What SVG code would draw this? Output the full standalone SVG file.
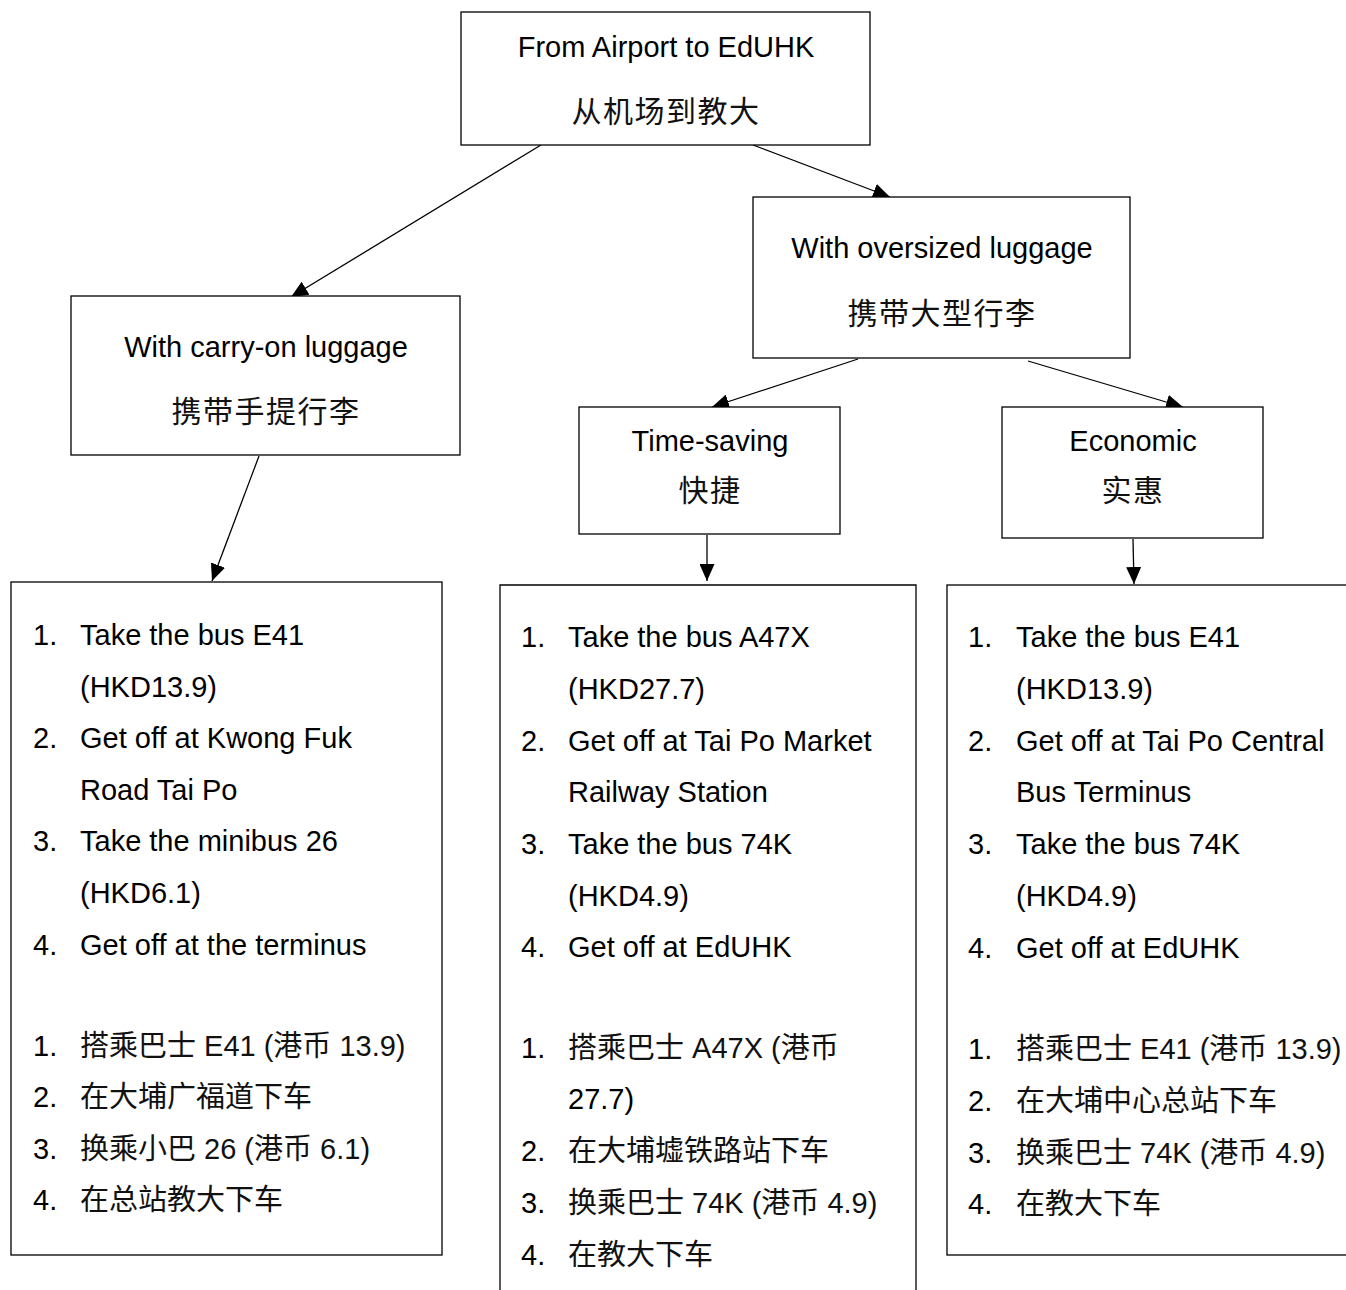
<svg xmlns="http://www.w3.org/2000/svg" width="1346" height="1290" viewBox="0 0 1346 1290">
<style>
.box{fill:#fff;stroke:#000;stroke-width:1.3}
text{font-family:"Liberation Sans",Arial,"Noto Sans CJK SC",sans-serif;font-size:29px;fill:#000}
.c{text-anchor:middle}
.zh{font-family:"Liberation Sans",Arial,"Noto Sans CJK SC",sans-serif;fill:#111}
.tz{font-size:30px;letter-spacing:1.5px;fill:#111}
.conn line{stroke:#000;stroke-width:1.3;marker-end:url(#ah)}
</style>
<defs>
<marker id="ah" markerUnits="userSpaceOnUse" markerWidth="17" markerHeight="15" refX="17" refY="7.5" orient="auto" viewBox="0 0 17 15">
<path d="M0,0 L17,7.5 L0,15 z" fill="#000"/>
</marker>
</defs>
<rect width="1346" height="1290" fill="#fff"/>
<g class="conn" id="connectors">
<line x1="541" y1="145" x2="291" y2="297"/>
<line x1="753" y1="145" x2="890" y2="197"/>
<line x1="259" y1="456" x2="212" y2="581"/>
<line x1="858" y1="359" x2="712" y2="407"/>
<line x1="1028" y1="361" x2="1183" y2="407"/>
<line x1="707" y1="535" x2="707" y2="581"/>
<line x1="1133" y1="539" x2="1134" y2="584"/>
</g>
<g id="root">
<rect class="box" x="461" y="12" width="409" height="133"/>
<text class="c" x="666" y="57">From Airport to EdUHK</text>
<text class="c tz" x="666" y="122">从机场到教大</text>
</g>
<g id="carryon">
<rect class="box" x="71" y="296" width="389" height="159"/>
<text class="c" x="266" y="357">With carry-on luggage</text>
<text class="c tz" x="266" y="422">携带手提行李</text>
</g>
<g id="oversized">
<rect class="box" x="753" y="197" width="377" height="161"/>
<text class="c" x="942" y="258">With oversized luggage</text>
<text class="c tz" x="942" y="324">携带大型行李</text>
</g>
<g id="timesaving">
<rect class="box" x="579" y="407" width="261" height="127"/>
<text class="c" x="710" y="451">Time-saving</text>
<text class="c tz" x="710" y="501">快捷</text>
</g>
<g id="economic">
<rect class="box" x="1002" y="407" width="261" height="131"/>
<text class="c" x="1133" y="451">Economic</text>
<text class="c tz" x="1133" y="501">实惠</text>
</g>
<g id="list-carryon">
<rect class="box" x="11" y="582" width="431" height="673"/>
<text x="33" y="645">1.</text><text x="80" y="645">Take the bus E41</text>
<text x="80" y="697">(HKD13.9)</text>
<text x="33" y="748">2.</text><text x="80" y="748">Get off at Kwong Fuk</text>
<text x="80" y="800">Road Tai Po</text>
<text x="33" y="851">3.</text><text x="80" y="851">Take the minibus 26</text>
<text x="80" y="903">(HKD6.1)</text>
<text x="33" y="955">4.</text><text x="80" y="955">Get off at the terminus</text>
<text x="33" y="1056">1.</text><text class="zh" x="80" y="1056">搭乘巴士 E41 (港币 13.9)</text>
<text x="33" y="1107">2.</text><text class="zh" x="80" y="1107">在大埔广福道下车</text>
<text x="33" y="1159">3.</text><text class="zh" x="80" y="1159">换乘小巴 26 (港币 6.1)</text>
<text x="33" y="1210">4.</text><text class="zh" x="80" y="1210">在总站教大下车</text>
</g>
<g id="list-timesaving">
<path class="box" d="M500,1300 V585 H916 V1300"/>
<text x="521" y="647">1.</text><text x="568" y="647">Take the bus A47X</text>
<text x="568" y="699">(HKD27.7)</text>
<text x="521" y="751">2.</text><text x="568" y="751">Get off at Tai Po Market</text>
<text x="568" y="802">Railway Station</text>
<text x="521" y="854">3.</text><text x="568" y="854">Take the bus 74K</text>
<text x="568" y="906">(HKD4.9)</text>
<text x="521" y="957">4.</text><text x="568" y="957">Get off at EdUHK</text>
<text x="521" y="1058">1.</text><text class="zh" x="568" y="1058">搭乘巴士 A47X (港币</text>
<text x="568" y="1109">27.7)</text>
<text x="521" y="1161">2.</text><text class="zh" x="568" y="1161">在大埔墟铁路站下车</text>
<text x="521" y="1213">3.</text><text class="zh" x="568" y="1213">换乘巴士 74K (港币 4.9)</text>
<text x="521" y="1265">4.</text><text class="zh" x="568" y="1265">在教大下车</text>
</g>
<g id="list-economic">
<rect class="box" x="947" y="585" width="420" height="670"/>
<text x="968" y="647">1.</text><text x="1016" y="647">Take the bus E41</text>
<text x="1016" y="699">(HKD13.9)</text>
<text x="968" y="751">2.</text><text x="1016" y="751">Get off at Tai Po Central</text>
<text x="1016" y="802">Bus Terminus</text>
<text x="968" y="854">3.</text><text x="1016" y="854">Take the bus 74K</text>
<text x="1016" y="906">(HKD4.9)</text>
<text x="968" y="958">4.</text><text x="1016" y="958">Get off at EdUHK</text>
<text x="968" y="1059">1.</text><text class="zh" x="1016" y="1059">搭乘巴士 E41 (港币 13.9)</text>
<text x="968" y="1111">2.</text><text class="zh" x="1016" y="1111">在大埔中心总站下车</text>
<text x="968" y="1163">3.</text><text class="zh" x="1016" y="1163">换乘巴士 74K (港币 4.9)</text>
<text x="968" y="1214">4.</text><text class="zh" x="1016" y="1214">在教大下车</text>
</g>
</svg>
